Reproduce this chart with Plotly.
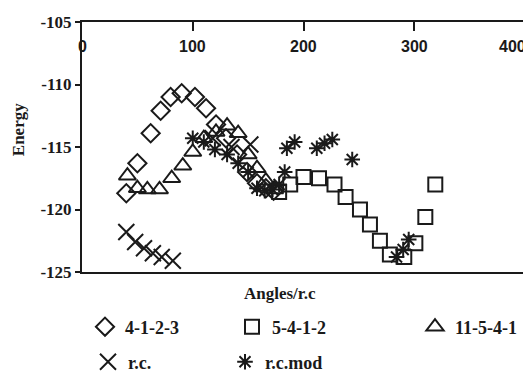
import plotly.graph_objects as go

# ---- data ----
d_x = [40, 50, 62, 71, 80, 90, 102, 112, 121, 130, 140, 149, 158, 166, 173]
d_y = [-118.7, -116.3, -113.9, -112.1, -111.0, -110.7, -111.0, -111.9, -113.2, -114.3, -115.6, -117.0, -117.9, -118.3, -118.5]

s_x = [178, 188, 200, 214, 228, 238, 251, 260, 269, 278, 291, 301, 310, 319]
s_y = [-118.6, -118.0, -117.4, -117.5, -118.0, -119.0, -120.0, -121.2, -122.5, -123.6, -123.8, -122.7, -120.6, -118.0]

t_x = [41, 50, 59, 70, 81, 91, 100, 110, 121, 131, 141, 150, 158, 166, 174]
t_y = [-117.3, -118.3, -118.4, -118.4, -117.5, -116.5, -115.4, -114.3, -113.8, -113.3, -113.9, -115.6, -116.7, -117.7, -118.4]

rc_x = [40, 48, 56, 64, 72, 82, 118, 135, 152]
rc_y = [-121.8, -122.6, -123.1, -123.5, -123.8, -124.1, -114.3, -115.0, -114.8]

rcm_x = [100, 110, 120, 131, 141, 150, 158, 165, 172, 178, 183, 185, 192, 212, 219, 226, 244, 284, 290, 295]
rcm_y = [-114.3, -114.6, -115.2, -115.6, -116.3, -117.0, -118.3, -118.5, -118.4, -118.0, -117.0, -115.1, -114.6, -115.1, -114.7, -114.4, -116.0, -123.8, -123.2, -122.4]

x_ticks = [0, 100, 200, 300, 400]
y_ticks = [-105, -110, -115, -120, -125]

BLACK = "#1a1a1a"
SERIF = "Liberation Serif"
W, H = 523, 365  # page body adds an 8px margin

fig = go.Figure()

def add(x, y, name, symbol, size, legend):
    fig.add_trace(go.Scatter(
        x=x, y=y, mode="markers", name=name, legend=legend,
        marker=dict(symbol=symbol, size=size, color=BLACK,
                    line=dict(color=BLACK, width=2)),
        cliponaxis=False,
    ))

add(d_x, d_y, "4-1-2-3", "diamond-open", 14, "legend")
add(s_x, s_y, "5-4-1-2", "square-open", 14, "legend2")
add(t_x, t_y, "11-5-4-1", "triangle-up-open", 15, "legend3")
add(rc_x, rc_y, "r.c.", "x-thin-open", 16, "legend4")
add(rcm_x, rcm_y, "r.c.mod", "asterisk-open", 13, "legend5")

legfont = dict(family=SERIF, size=18, color=BLACK, weight="bold")

def leg(px, py):
    return dict(x=(px - 8) / W, y=1 - (py - 8) / H, xanchor="left", yanchor="middle",
                xref="container", yref="container",
                font=legfont, bgcolor="rgba(0,0,0,0)", borderwidth=0)

xfont = dict(family="Liberation Sans", size=16, color=BLACK, weight="bold")
x_labels = []
for v in x_ticks:
    last = v == x_ticks[-1]
    x_labels.append(dict(text=str(v), x=v, y=1, xref="x", yref="paper", yshift=-24,
                         xanchor="right" if last else "center",
                         xshift=3 if last else 0,
                         yanchor="middle", showarrow=False, font=xfont))

fig.update_layout(
    width=W, height=H,
    margin=dict(l=74, r=6, t=14, b=101, autoexpand=False),
    paper_bgcolor="white", plot_bgcolor="white",
    showlegend=True,
    legend=leg(85, 327),
    legend2=leg(232, 327),
    legend3=leg(415, 327),
    legend4=leg(88, 362),
    legend5=leg(225, 362),
    xaxis=dict(
        range=[0, 400], side="top", tickvals=x_ticks, showticklabels=False,
        ticks="inside", ticklen=9, tickwidth=2, tickcolor=BLACK,
        showline=True, linecolor=BLACK, linewidth=2, mirror=True,
        showgrid=False, zeroline=False,
    ),
    yaxis=dict(
        range=[-125, -105], tickvals=y_ticks, ticktext=[str(v) for v in y_ticks],
        ticks="outside", ticklen=5, tickwidth=2, tickcolor=BLACK,
        showline=True, linecolor=BLACK, linewidth=2, mirror=True,
        showgrid=False, zeroline=False,
        tickfont=dict(family=SERIF, size=17, color=BLACK, weight="bold"),
    ),
    annotations=x_labels + [
        dict(text="Angles/r.c", x=0.447, y=-0.084, xref="paper", yref="paper",
             xanchor="center", yanchor="middle",
             showarrow=False, font=dict(family=SERIF, size=17, color=BLACK, weight="bold")),
        dict(text="Energy", x=-0.144, y=0.568, xref="paper", yref="paper", textangle=-90,
             xanchor="center", yanchor="middle",
             showarrow=False, font=dict(family=SERIF, size=17, color=BLACK, weight="bold")),
    ],
)

fig.write_html("out.html")
